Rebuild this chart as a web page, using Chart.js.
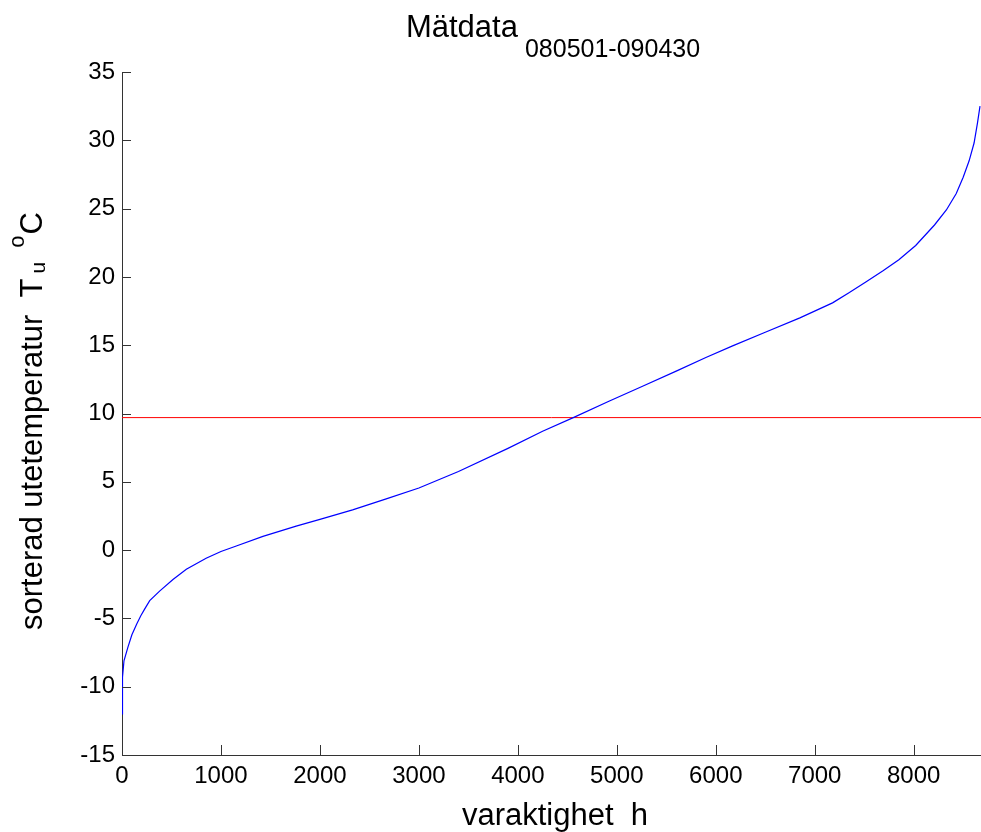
<!DOCTYPE html>
<html>
<head>
<meta charset="utf-8">
<script src="https://cdn.jsdelivr.net/npm/chart.js@4/dist/chart.umd.min.js"></script>
<style>
  html, body { margin: 0; padding: 0; background: #fff; }
  #wrap { width: 981px; height: 832px; }
</style>
</head>
<body>
<div id="wrap"><canvas id="durationChart" width="981" height="832"></canvas></div>
<script>
// sorted outdoor temperature (duration curve)
var hours = [0, 5, 20, 60, 100, 150, 190, 230, 280, 380, 515, 650, 850, 1000, 1155, 1424,
    1760, 2000, 2330, 2670, 3000, 3400, 3900, 4250, 4560, 4920, 5260, 5600, 5900, 6170,
    6500, 6850, 7180, 7350, 7520, 7690, 7850, 8020, 8210, 8330, 8430, 8500, 8560, 8610,
    8645, 8670];
var temps = [-12.0, -9.3, -8.1, -7.1, -6.2, -5.4, -4.8, -4.3, -3.7, -3.0, -2.15, -1.4, -0.6, -0.1,
    0.3, 1.0, 1.75, 2.25, 2.95, 3.75, 4.55, 5.75, 7.45, 8.7, 9.7, 10.9, 12.0, 13.1, 14.1,
    14.95, 15.95, 17.0, 18.1, 18.85, 19.65, 20.45, 21.25, 22.3, 23.8, 24.9, 26.1, 27.3, 28.5,
    29.8, 31.3, 32.5];
var meanLevel = 9.7;
var xTicks = [0, 1000, 2000, 3000, 4000, 5000, 6000, 7000, 8000];
var yTicks = [-15, -10, -5, 0, 5, 10, 15, 20, 25, 30, 35];
var xMax = 8680;

var FONT = '"Liberation Sans", Arial, sans-serif';

function toPoints(xs, ys) {
    var pts = [];
    for (var i = 0; i < xs.length; i++) pts.push({ x: xs[i], y: ys[i] });
    return pts;
}

// inward tick marks like the original figure
var innerTicks = {
    id: 'innerTicks',
    afterDatasetsDraw: function (chart) {
        var ctx = chart.ctx, a = chart.chartArea;
        var xs = chart.scales.x, ys = chart.scales.y;
        ctx.save();
        ctx.strokeStyle = '#333';
        ctx.lineWidth = 1;
        ctx.beginPath();
        xTicks.forEach(function (v) {
            var px = Math.round(xs.getPixelForValue(v)) + 0.5;
            ctx.moveTo(px, a.bottom);
            ctx.lineTo(px, a.bottom - 10);
        });
        yTicks.forEach(function (v) {
            var py = Math.round(ys.getPixelForValue(v)) + 0.5;
            ctx.moveTo(a.left, py);
            ctx.lineTo(a.left + 9, py);
        });
        ctx.stroke();
        ctx.restore();
    }
};

// title and axis labels with sub/superscripts
var labels = {
    id: 'labels',
    afterDraw: function (chart) {
        var ctx = chart.ctx;
        ctx.save();
        ctx.fillStyle = '#000';
        ctx.textBaseline = 'alphabetic';
        ctx.textAlign = 'left';

        // title
        ctx.font = '31px ' + FONT;
        var t1 = 'Mätdata', w1 = ctx.measureText(t1).width;
        ctx.font = '25px ' + FONT;
        var t2 = '080501-090430', w2 = ctx.measureText(t2).width;
        var gap = 7;
        var x0 = 553 - (w1 + gap + w2) / 2;
        ctx.font = '31px ' + FONT;
        ctx.fillText(t1, x0, 37);
        ctx.font = '25px ' + FONT;
        ctx.fillText(t2, x0 + w1 + gap, 57);

        // x label
        ctx.font = '31px ' + FONT;
        ctx.textAlign = 'center';
        ctx.fillText('varaktighet  h', 555, 825);

        // y label, rotated
        ctx.translate(42, 630);
        ctx.rotate(-Math.PI / 2);
        ctx.textAlign = 'left';
        var x = 0;
        ctx.font = '31px ' + FONT;
        var s1 = 'sorterad utetemperatur  T';
        ctx.fillText(s1, x, 0);
        x += ctx.measureText(s1).width + 5;
        ctx.font = '21px ' + FONT;
        ctx.fillText('u', x, 3);
        x += ctx.measureText('u').width + 14;
        ctx.font = '22px ' + FONT;
        ctx.fillText('o', x, -18);
        x += ctx.measureText('o').width + 1;
        ctx.font = '31px ' + FONT;
        ctx.fillText('C', x, 0);
        ctx.restore();
    }
};

var ctx = document.getElementById('durationChart').getContext('2d');
var durationChart = new Chart(ctx, {
    type: 'line',
    data: {
        datasets: [{
            label: 'sorterad utetemperatur',
            data: toPoints(hours, temps),
            borderColor: '#0000ff',
            borderWidth: 1.2,
            pointRadius: 0,
            tension: 0,
            fill: false
        }, {
            label: 'medel',
            data: toPoints([0, xMax], [meanLevel, meanLevel]),
            borderColor: '#ff0000',
            borderWidth: 1,
            pointRadius: 0,
            tension: 0,
            fill: false
        }]
    },
    options: {
        responsive: false,
        animation: false,
        devicePixelRatio: 1,
        layout: { padding: { top: 72, left: 0, right: 0, bottom: 0 } },
        plugins: {
            legend: { display: false },
            tooltip: { enabled: false },
            title: { display: false }
        },
        scales: {
            x: {
                type: 'linear',
                min: 0,
                max: xMax,
                afterBuildTicks: function (scale) {
                    scale.ticks = xTicks.map(function (v) { return { value: v }; });
                },
                afterFit: function (scale) { scale.height = 77; },
                grid: { drawOnChartArea: false, drawTicks: false },
                border: { display: true, color: '#333', width: 1 },
                ticks: {
                    autoSkip: false,
                    maxRotation: 0,
                    padding: 7,
                    color: '#000',
                    font: { family: FONT, size: 24 },
                    callback: function (value) { return String(value); }
                }
            },
            y: {
                min: -15,
                max: 35,
                afterBuildTicks: function (scale) {
                    scale.ticks = yTicks.map(function (v) { return { value: v }; });
                },
                afterFit: function (scale) { scale.width = 122; },
                grid: { drawOnChartArea: false, drawTicks: false },
                border: { display: true, color: '#333', width: 1 },
                ticks: {
                    padding: 7,
                    color: '#000',
                    font: { family: FONT, size: 24 },
                    callback: function (value) { return String(value); }
                }
            }
        }
    },
    plugins: [innerTicks, labels]
});
</script>
</body>
</html>
